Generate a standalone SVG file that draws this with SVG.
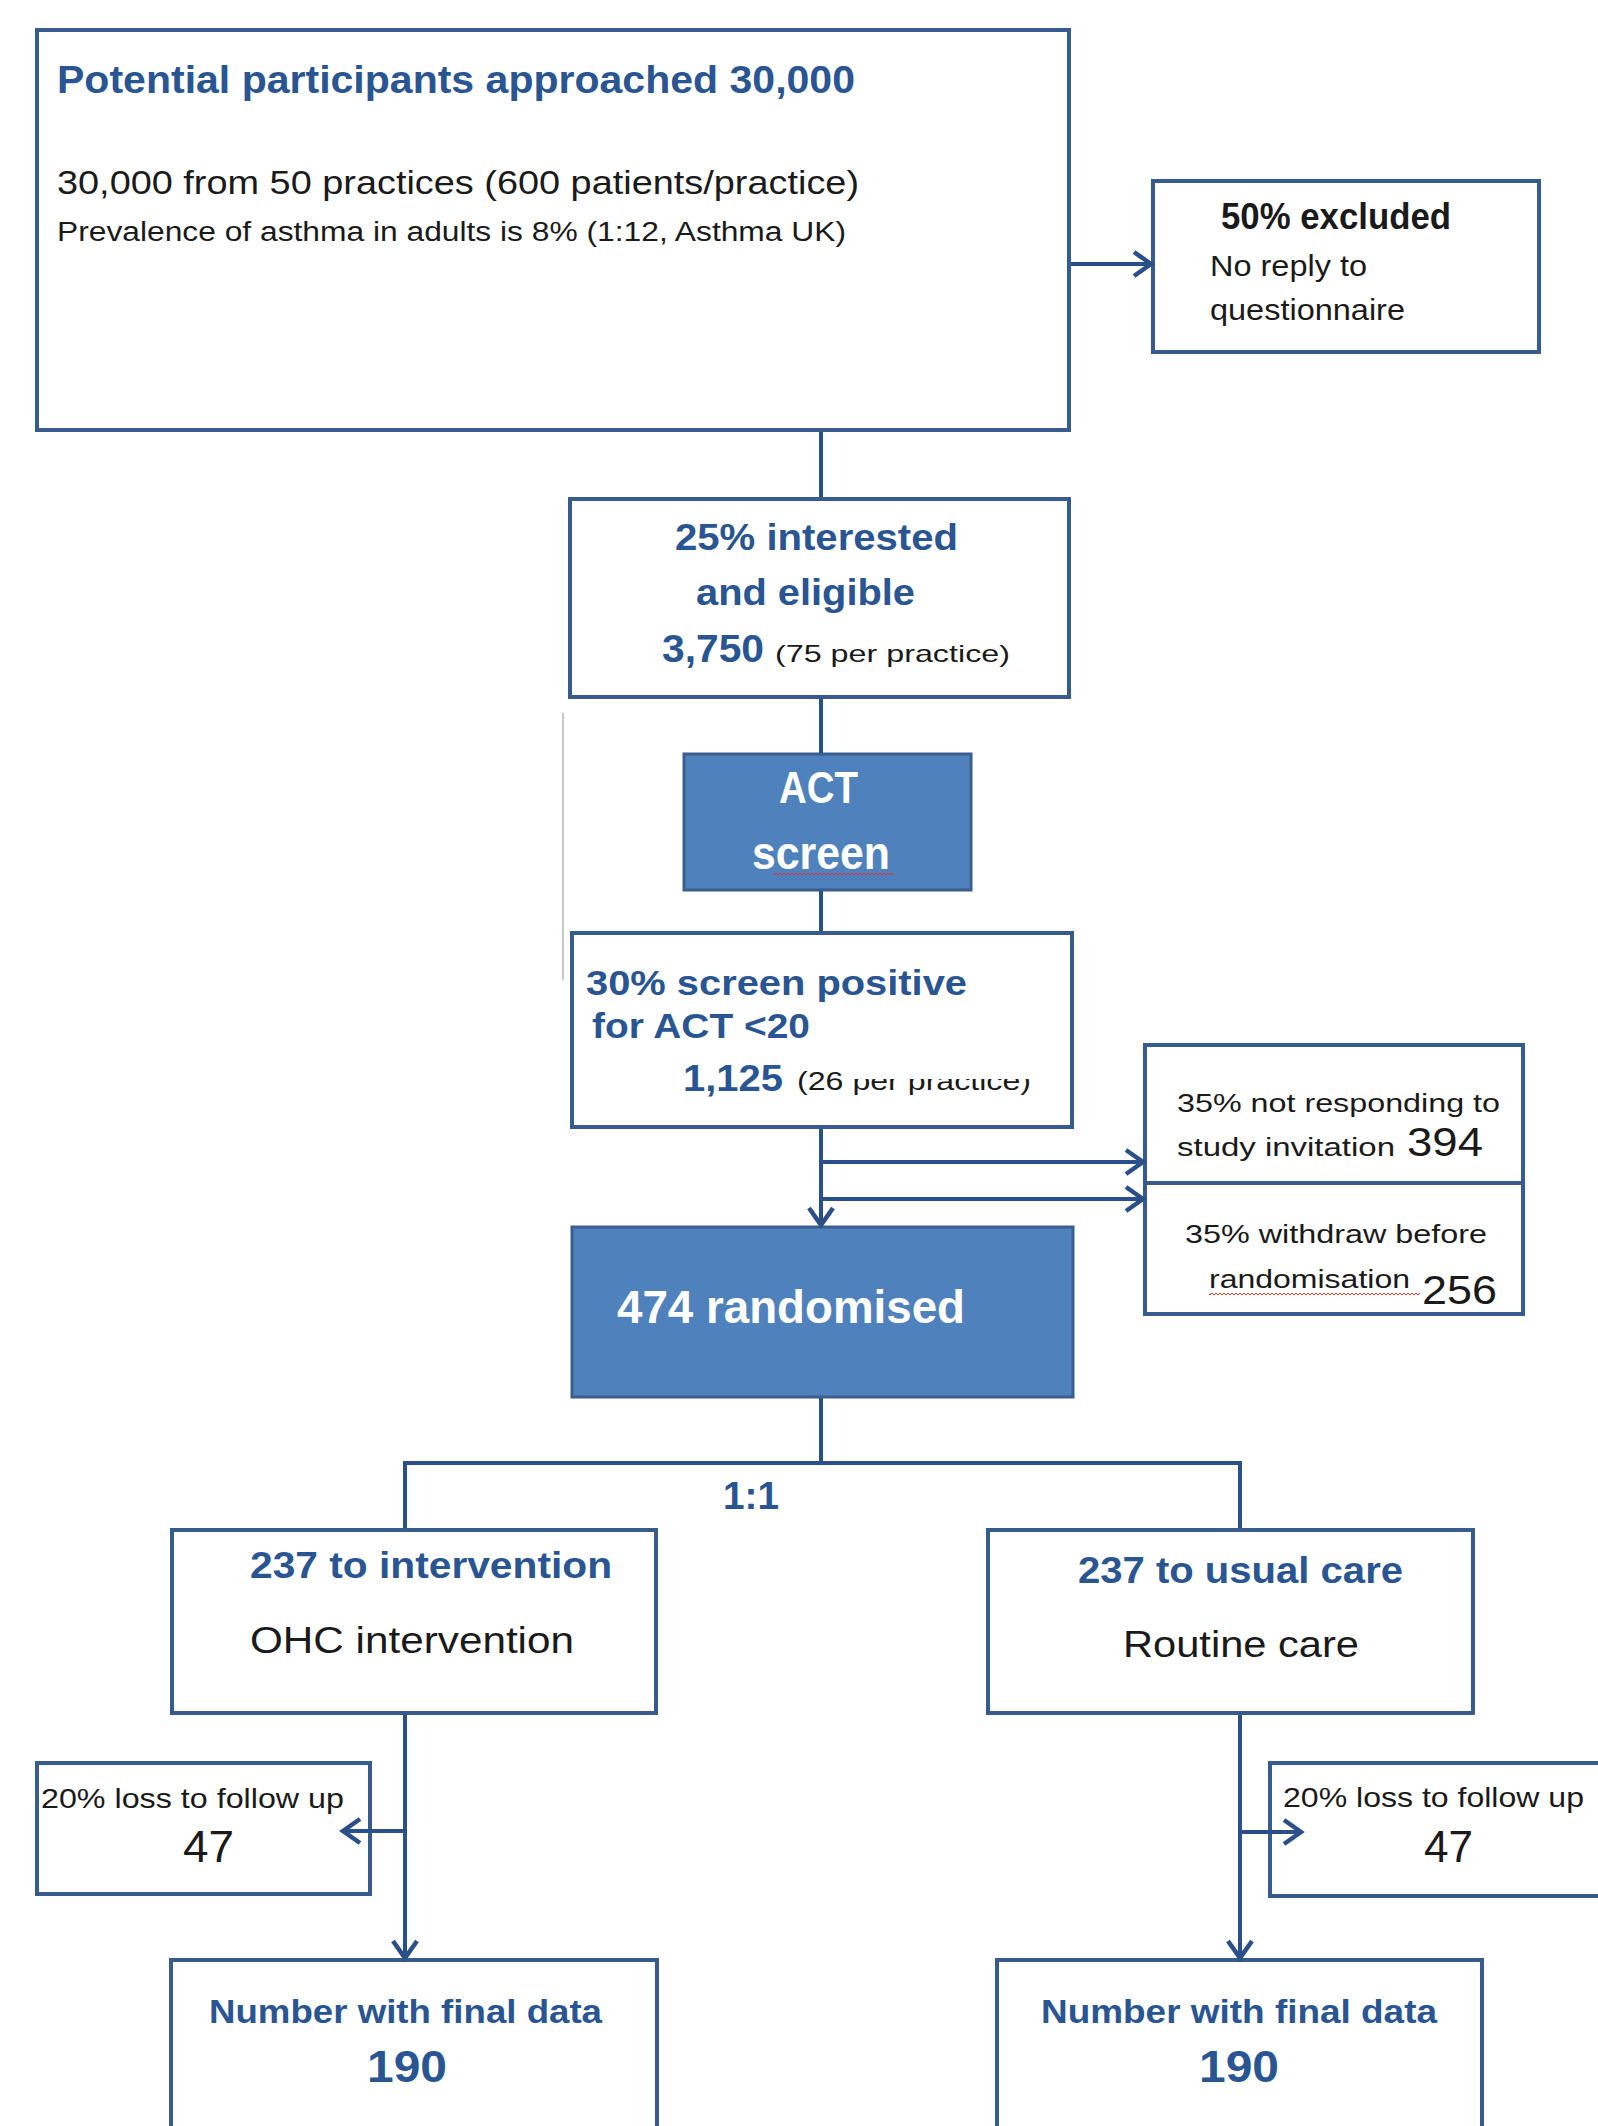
<svg xmlns="http://www.w3.org/2000/svg" width="1598" height="2126" viewBox="0 0 1598 2126">
<style>
.box{fill:#ffffff;stroke:#365B8C;stroke-width:4}
.dark{fill:#4F81BD;stroke:#3A5F8F;stroke-width:3}
.ln{fill:none;stroke:#2B5089;stroke-width:4}
.arr{fill:none;stroke:#2B5089;stroke-width:4;marker-end:url(#chev)}
text{font-family:"Liberation Sans",Arial,sans-serif}
.bb{font-weight:bold;fill:#2A5593}
.bk{fill:#1a1a1a}
.bkb{fill:#1a1a1a;font-weight:bold}
.wt{fill:#ffffff;font-weight:bold}
</style>
<defs>
<marker id="chev" markerUnits="userSpaceOnUse" viewBox="-3 -3 24 30" markerWidth="24" markerHeight="30" refX="17" refY="12" orient="auto">
<path d="M0,0 L17,12 L0,24" fill="none" stroke="#2B5089" stroke-width="4.5" stroke-linejoin="miter"/>
</marker>
<pattern id="squig" patternUnits="userSpaceOnUse" width="4" height="4">
<path d="M0,1 L2,3 L4,1" fill="none" stroke="#E03030" stroke-width="1"/>
</pattern>
<clipPath id="cut26">
<polygon points="790,1055 846,1055 846,1079 1045,1079 1045,1105 790,1105"/>
</clipPath>
</defs>

<g id="n-approached">
<rect class="box" x="37" y="30" width="1032" height="400"/>
<text class="bb" x="57" y="93" font-size="39" textLength="798" lengthAdjust="spacingAndGlyphs">Potential participants approached 30,000</text>
<text class="bk" x="57" y="194" font-size="33" textLength="802" lengthAdjust="spacingAndGlyphs">30,000 from 50 practices (600 patients/practice)</text>
<text class="bk" x="57" y="241" font-size="27" textLength="789" lengthAdjust="spacingAndGlyphs">Prevalence of asthma in adults is 8% (1:12, Asthma UK)</text>
</g>

<g id="n-excluded">
<rect class="box" x="1153" y="181" width="386" height="171"/>
<text class="bkb" x="1221" y="229" font-size="36" textLength="230" lengthAdjust="spacingAndGlyphs">50% excluded</text>
<text class="bk" x="1210" y="276" font-size="30" textLength="157" lengthAdjust="spacingAndGlyphs">No reply to</text>
<text class="bk" x="1210" y="320" font-size="30" textLength="195" lengthAdjust="spacingAndGlyphs">questionnaire</text>
</g>

<g id="n-interested">
<rect class="box" x="570" y="499" width="499" height="198"/>
<text class="bb" x="675" y="550" font-size="37" textLength="283" lengthAdjust="spacingAndGlyphs">25% interested</text>
<text class="bb" x="696" y="605" font-size="37" textLength="219" lengthAdjust="spacingAndGlyphs">and eligible</text>
<text class="bb" x="662" y="662" font-size="39" textLength="102" lengthAdjust="spacingAndGlyphs">3,750</text>
<text class="bk" x="775" y="662" font-size="24" textLength="235" lengthAdjust="spacingAndGlyphs">(75 per practice)</text>
</g>

<g id="n-act">
<rect class="dark" x="684" y="754" width="287" height="136"/>
<text class="wt" x="779" y="803" font-size="44" textLength="79" lengthAdjust="spacingAndGlyphs">ACT</text>
<text class="wt" x="752" y="869" font-size="46" textLength="138" lengthAdjust="spacingAndGlyphs">screen</text>
<rect x="773" y="872" width="121" height="4" fill="url(#squig)"/>
</g>

<g id="n-positive">
<rect class="box" x="572" y="933" width="500" height="194"/>
<text class="bb" x="586" y="995" font-size="35" textLength="381" lengthAdjust="spacingAndGlyphs">30% screen positive</text>
<text class="bb" x="592" y="1038" font-size="35" textLength="218" lengthAdjust="spacingAndGlyphs">for ACT &lt;20</text>
<text class="bb" x="683" y="1091" font-size="36" textLength="100" lengthAdjust="spacingAndGlyphs">1,125</text>
<text class="bk" x="797" y="1090" font-size="25" textLength="234" lengthAdjust="spacingAndGlyphs" clip-path="url(#cut26)">(26 per practice)</text>
</g>

<g id="n-dropouts">
<rect class="box" x="1145" y="1045" width="378" height="138"/>
<rect class="box" x="1145" y="1183" width="378" height="131"/>
<text class="bk" x="1177" y="1112" font-size="25" textLength="323" lengthAdjust="spacingAndGlyphs">35% not responding to</text>
<text class="bk" x="1177" y="1156" font-size="25" textLength="218" lengthAdjust="spacingAndGlyphs">study invitation</text>
<text class="bk" x="1407" y="1156" font-size="41" textLength="76" lengthAdjust="spacingAndGlyphs">394</text>
<text class="bk" x="1185" y="1243" font-size="25" textLength="302" lengthAdjust="spacingAndGlyphs">35% withdraw before</text>
<text class="bk" x="1209" y="1288" font-size="25" textLength="201" lengthAdjust="spacingAndGlyphs">randomisation</text>
<rect x="1209" y="1292" width="211" height="4" fill="url(#squig)"/>
<text class="bk" x="1422" y="1304" font-size="41" textLength="75" lengthAdjust="spacingAndGlyphs">256</text>
</g>

<g id="n-randomised">
<rect class="dark" x="572" y="1227" width="501" height="170"/>
<text class="wt" x="617" y="1323" font-size="46" textLength="348" lengthAdjust="spacingAndGlyphs">474 randomised</text>
</g>

<g id="l-ratio">
<text class="bb" x="723" y="1509" font-size="38" textLength="56" lengthAdjust="spacingAndGlyphs">1:1</text>
</g>

<g id="n-intervention">
<rect class="box" x="172" y="1530" width="484" height="183"/>
<text class="bb" x="250" y="1578" font-size="37" textLength="362" lengthAdjust="spacingAndGlyphs">237 to intervention</text>
<text class="bk" x="250" y="1653" font-size="37" textLength="324" lengthAdjust="spacingAndGlyphs">OHC intervention</text>
</g>

<g id="n-usual">
<rect class="box" x="988" y="1530" width="485" height="183"/>
<text class="bb" x="1078" y="1583" font-size="37" textLength="325" lengthAdjust="spacingAndGlyphs">237 to usual care</text>
<text class="bk" x="1123" y="1657" font-size="37" textLength="236" lengthAdjust="spacingAndGlyphs">Routine care</text>
</g>

<g id="n-loss-left">
<rect class="box" x="37" y="1763" width="333" height="131"/>
<text class="bk" x="41" y="1808" font-size="28" textLength="303" lengthAdjust="spacingAndGlyphs">20% loss to follow up</text>
<text class="bk" x="183" y="1862" font-size="44" textLength="51" lengthAdjust="spacingAndGlyphs">47</text>
</g>

<g id="n-loss-right">
<rect class="box" x="1270" y="1763" width="360" height="133"/>
<text class="bk" x="1283" y="1807" font-size="28" textLength="301" lengthAdjust="spacingAndGlyphs">20% loss to follow up</text>
<text class="bk" x="1424" y="1862" font-size="44" textLength="49" lengthAdjust="spacingAndGlyphs">47</text>
</g>

<g id="n-final-left">
<rect class="box" x="171" y="1960" width="486" height="200"/>
<text class="bb" x="209" y="2023" font-size="33" textLength="393" lengthAdjust="spacingAndGlyphs">Number with final data</text>
<text class="bb" x="367" y="2082" font-size="44" textLength="80" lengthAdjust="spacingAndGlyphs">190</text>
</g>

<g id="n-final-right">
<rect class="box" x="997" y="1960" width="485" height="200"/>
<text class="bb" x="1041" y="2023" font-size="33" textLength="396" lengthAdjust="spacingAndGlyphs">Number with final data</text>
<text class="bb" x="1199" y="2082" font-size="44" textLength="80" lengthAdjust="spacingAndGlyphs">190</text>
</g>

<g id="connectors">
<line class="ln" x1="821" y1="432" x2="821" y2="497"/>
<line class="arr" x1="1071" y1="264" x2="1151" y2="264"/>
<line class="ln" x1="821" y1="699" x2="821" y2="753"/>
<line class="ln" x1="821" y1="891" x2="821" y2="931"/>
<line class="arr" x1="821" y1="1129" x2="821" y2="1225"/>
<line class="arr" x1="823" y1="1162" x2="1143" y2="1162"/>
<line class="arr" x1="823" y1="1199" x2="1143" y2="1199"/>
<line class="ln" x1="821" y1="1398" x2="821" y2="1463"/>
<line class="ln" x1="403" y1="1463" x2="1242" y2="1463"/>
<line class="ln" x1="405" y1="1461" x2="405" y2="1528"/>
<line class="ln" x1="1240" y1="1461" x2="1240" y2="1528"/>
<line class="arr" x1="405" y1="1715" x2="405" y2="1958"/>
<line class="arr" x1="403" y1="1831" x2="343" y2="1831"/>
<line class="arr" x1="1240" y1="1715" x2="1240" y2="1958"/>
<line class="arr" x1="1242" y1="1832" x2="1301" y2="1832"/>
<line x1="563" y1="713" x2="563" y2="980" stroke="#c8c8c8" stroke-width="2"/>
</g>
</svg>
